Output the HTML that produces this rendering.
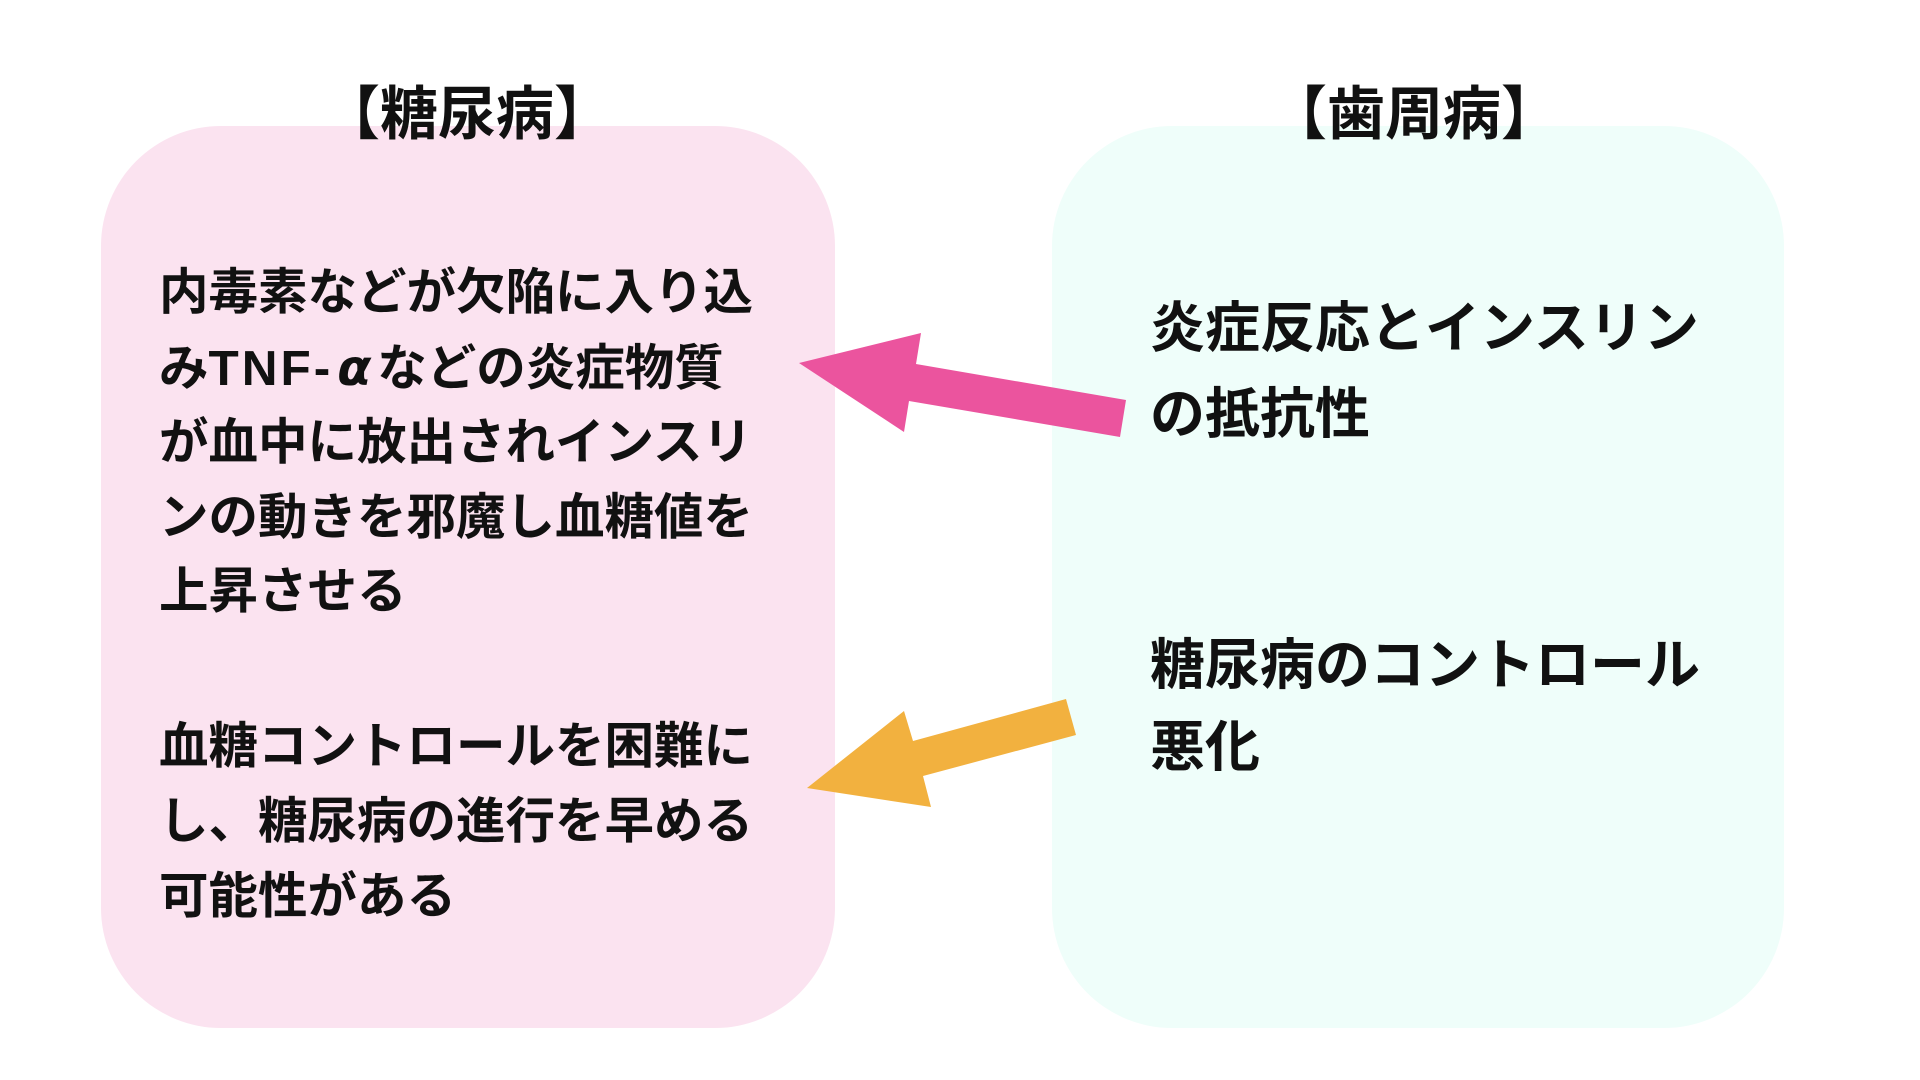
<!DOCTYPE html>
<html><head><meta charset="utf-8"><style>
html,body{margin:0;padding:0;background:#fff;width:1920px;height:1080px;overflow:hidden;position:relative;font-family:"Liberation Sans","Noto Sans CJK JP",sans-serif;font-weight:bold;color:#111;}
.box{position:absolute;top:126px;height:902px;border-radius:120px;}
.t{position:absolute;white-space:nowrap;}
</style></head><body>
<div class="box" style="left:101px;width:734px;background:#fbe3f0;"></div>
<div class="box" style="left:1052px;width:732px;background:#effefa;"></div>
<div class="t" style="left:322px;top:82px;font-size:58px;line-height:66px;">【糖尿病】</div>
<div class="t" style="left:1269px;top:82px;font-size:58px;line-height:66px;">【歯周病】</div>
<div class="t" style="left:159px;top:256px;font-size:49.5px;line-height:74.5px;">内毒素などが欠陥に入り込<br>み<span style="letter-spacing:3px">TNF-</span><span style="font-family:'DejaVu Sans',sans-serif;font-style:italic;padding:0 6px 0 4px">α</span>などの炎症物質<br>が血中に放出されインスリ<br>ンの動きを邪魔し血糖値を<br>上昇させる</div>
<div class="t" style="left:159px;top:709px;font-size:49.5px;line-height:75px;">血糖コントロールを困難に<br>し、糖尿病の進行を早める<br>可能性がある</div>
<div class="t" style="left:1150px;top:285px;font-size:55px;line-height:86px;">炎症反応とインスリン<br>の抵抗性</div>
<div class="t" style="left:1150px;top:624px;font-size:55px;line-height:82px;">糖尿病のコントロール<br>悪化</div>
<svg width="1920" height="1080" style="position:absolute;left:0;top:0">
<polygon fill="#eb549e" points="799,363 921,333 916,364 1126,400 1120,437 909,401 904,432"/>
<polygon fill="#f2b13f" points="807,788 904,711 913,741 1066,699 1076,735 923,776 931,807"/>
</svg>
</body></html>
